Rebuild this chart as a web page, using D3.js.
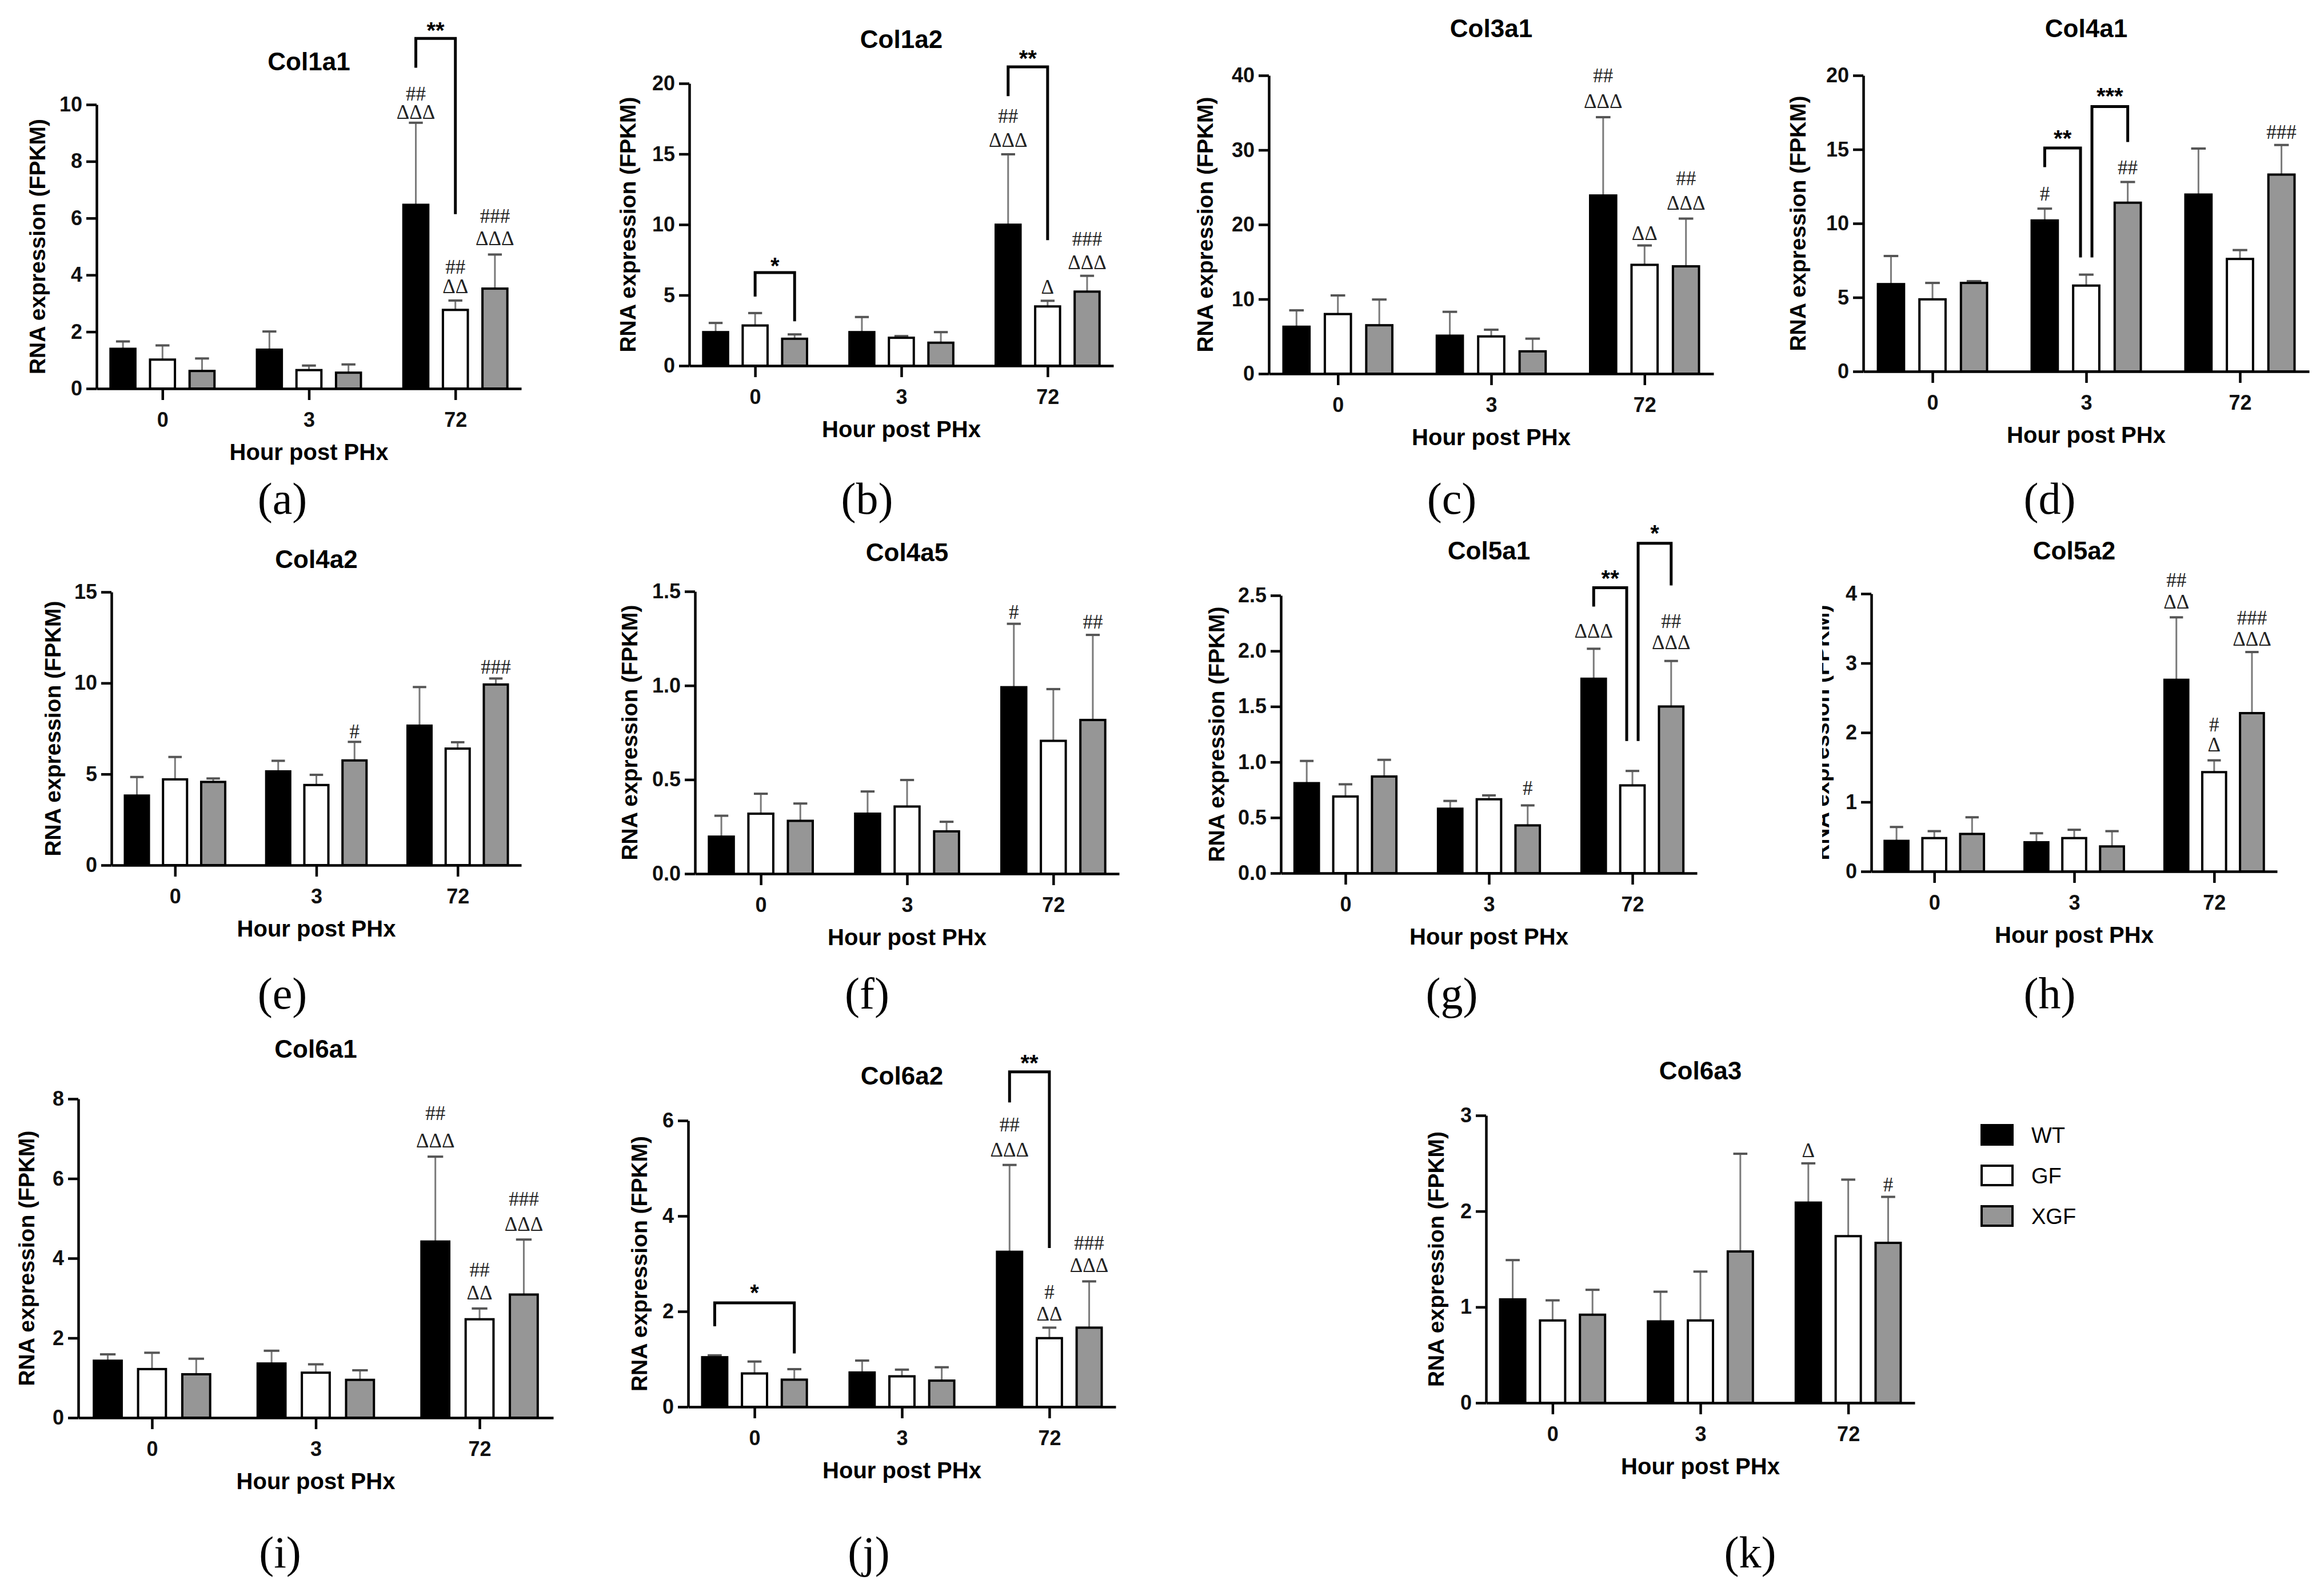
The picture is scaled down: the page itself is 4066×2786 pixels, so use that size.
<!DOCTYPE html>
<html>
<head>
<meta charset="utf-8">
<script src="https://cdn.jsdelivr.net/npm/d3@7"></script>
<style>
body { margin: 0; background: #fff; }
</style>
</head>
<body>
<script>
//collagen RNA expression panels, 11 small bar charts

//categories
var hours = ["0", "3", "72"];
var groups = ["WT", "GF", "XGF"];
var genes = ["Col1a1", "Col1a2", "Col3a1", "Col4a1", "Col4a2", "Col4a5", "Col5a1", "Col5a2", "Col6a1", "Col6a2", "Col6a3"];
var letters = ["a", "b", "c", "d", "e", "f", "g", "h", "i", "j", "k"];

//means (rows = hour, columns = WT, GF, XGF) and SD (upper error bar)
var col1a1Mean = [[1.40, 1.02, 0.62], [1.37, 0.65, 0.56], [6.47, 2.77, 3.52]];
var col1a1Sd   = [[0.26, 0.50, 0.44], [0.64, 0.16, 0.29], [2.89, 0.33, 1.20]];
var col1a2Mean = [[2.38, 2.85, 1.91], [2.38, 1.98, 1.63], [9.99, 4.20, 5.25]];
var col1a2Sd   = [[0.65, 0.88, 0.31], [1.07, 0.12, 0.75], [4.99, 0.40, 1.12]];
var col3a1Mean = [[6.3, 8.0, 6.5], [5.1, 5.0, 3.0], [23.9, 14.6, 14.4]];
var col3a1Sd   = [[2.2, 2.5, 3.45], [3.2, 0.9, 1.7], [10.5, 2.6, 6.4]];
var col4a1Mean = [[5.9, 4.87, 5.98], [10.2, 5.8, 11.4], [11.95, 7.6, 13.3]];
var col4a1Sd   = [[1.9, 1.11, 0.12], [0.8, 0.74, 1.4], [3.11, 0.6, 2.0]];
var col4a2Mean = [[3.82, 4.71, 4.57], [5.15, 4.40, 5.75], [7.66, 6.40, 9.92]];
var col4a2Sd   = [[1.02, 1.23, 0.19], [0.58, 0.56, 1.02], [2.12, 0.35, 0.33]];
var col4a5Mean = [[0.197, 0.319, 0.281], [0.319, 0.357, 0.225], [0.991, 0.706, 0.817]];
var col4a5Sd   = [[0.111, 0.106, 0.092], [0.118, 0.141, 0.051], [0.337, 0.275, 0.452]];
var col5a1Mean = [[0.81, 0.69, 0.87], [0.58, 0.665, 0.43], [1.75, 0.79, 1.50]];
var col5a1Sd   = [[0.20, 0.11, 0.15], [0.07, 0.035, 0.18], [0.27, 0.13, 0.41]];
var col5a2Mean = [[0.44, 0.48, 0.54], [0.42, 0.48, 0.36], [2.76, 1.43, 2.28]];
var col5a2Sd   = [[0.20, 0.10, 0.24], [0.13, 0.12, 0.22], [0.90, 0.17, 0.88]];
var col6a1Mean = [[1.43, 1.22, 1.09], [1.36, 1.13, 0.95], [4.42, 2.47, 3.09]];
var col6a1Sd   = [[0.16, 0.41, 0.39], [0.32, 0.21, 0.24], [2.13, 0.27, 1.38]];
var col6a2Mean = [[1.04, 0.70, 0.57], [0.72, 0.64, 0.55], [3.25, 1.44, 1.66]];
var col6a2Sd   = [[0.04, 0.25, 0.22], [0.25, 0.14, 0.28], [1.82, 0.22, 0.97]];
var col6a3Mean = [[1.08, 0.86, 0.92], [0.85, 0.86, 1.58], [2.09, 1.74, 1.67]];
var col6a3Sd   = [[0.41, 0.21, 0.26], [0.31, 0.51, 1.02], [0.41, 0.59, 0.48]];

//y tick labels
var col1a1Ticks = [0, 2, 4, 6, 8, 10];
var col1a2Ticks = [0, 5, 10, 15, 20];
var col3a1Ticks = [0, 10, 20, 30, 40];
var col4a1Ticks = [0, 5, 10, 15, 20];
var col4a2Ticks = [0, 5, 10, 15];
var col4a5Ticks = [0, 0.5, 1.0, 1.5];
var col5a1Ticks = [0, 0.5, 1.0, 1.5, 2.0, 2.5];
var col5a2Ticks = [0, 1, 2, 3, 4];
var col6a1Ticks = [0, 2, 4, 6, 8];
var col6a2Ticks = [0, 2, 4, 6];
var col6a3Ticks = [0, 1, 2, 3];

//marks over bars: [hour, group, text, value at text centre]
var col1a1Marks = [["72", "WT", "##", 10.38], ["72", "WT", "ΔΔΔ", 9.74], ["72", "GF", "##", 4.30], ["72", "GF", "ΔΔ", 3.60], ["72", "XGF", "###", 6.08], ["72", "XGF", "ΔΔΔ", 5.30]];
var col1a2Marks = [["72", "WT", "##", 17.7], ["72", "WT", "ΔΔΔ", 16.0], ["72", "GF", "Δ", 5.6], ["72", "XGF", "###", 9.0], ["72", "XGF", "ΔΔΔ", 7.35]];
var col3a1Marks = [["72", "WT", "##", 40.0], ["72", "WT", "ΔΔΔ", 36.6], ["72", "GF", "ΔΔ", 18.9], ["72", "XGF", "##", 26.2], ["72", "XGF", "ΔΔΔ", 22.9]];
var col4a1Marks = [["3", "WT", "#", 12.0], ["3", "XGF", "##", 13.8], ["72", "XGF", "###", 16.2]];
var col4a2Marks = [["3", "XGF", "#", 7.35], ["72", "XGF", "###", 10.9]];
var col4a5Marks = [["72", "WT", "#", 1.39], ["72", "XGF", "##", 1.34]];
var col5a1Marks = [["3", "XGF", "#", 0.77], ["72", "WT", "ΔΔΔ", 2.18], ["72", "XGF", "##", 2.27], ["72", "XGF", "ΔΔΔ", 2.08]];
var col5a2Marks = [["72", "WT", "##", 4.2], ["72", "WT", "ΔΔ", 3.89], ["72", "GF", "#", 2.12], ["72", "GF", "Δ", 1.83], ["72", "XGF", "###", 3.66], ["72", "XGF", "ΔΔΔ", 3.35]];
var col6a1Marks = [["72", "WT", "##", 7.64], ["72", "WT", "ΔΔΔ", 6.96], ["72", "GF", "##", 3.71], ["72", "GF", "ΔΔ", 3.15], ["72", "XGF", "###", 5.5], ["72", "XGF", "ΔΔΔ", 4.87]];
var col6a2Marks = [["72", "WT", "##", 5.92], ["72", "WT", "ΔΔΔ", 5.39], ["72", "GF", "#", 2.41], ["72", "GF", "ΔΔ", 1.95], ["72", "XGF", "###", 3.44], ["72", "XGF", "ΔΔΔ", 2.97]];
var col6a3Marks = [["72", "WT", "Δ", 2.64], ["72", "XGF", "#", 2.28]];

//brackets: [hour, from, to, left end, top, right end, stars, star value]
var col1a1Brackets = [["72", "WT", "GF", 11.3, 12.33, 6.14, "**", 12.8]];
var col1a2Brackets = [["0", "GF", "XGF", 4.9, 6.6, 3.15, "*", 7.47], ["72", "WT", "GF", 19.1, 21.17, 8.9, "**", 22.17]];
var col4a1Brackets = [["3", "WT", "GF", 13.8, 15.1, 7.7, "**", 16.1], ["3", "GF", "XGF", 7.7, 17.9, 15.5, "***", 18.95]];
var col5a1Brackets = [["72", "WT", "GF", 2.40, 2.57, 1.19, "**", 2.70], ["72", "GF", "XGF", 1.19, 2.97, 2.59, "*", 3.11]];
var col6a2Brackets = [["0", "WT", "XGF", 1.69, 2.18, 1.12, "*", 2.50], ["72", "WT", "GF", 6.38, 7.02, 3.33, "**", 7.32]];

var means = [col1a1Mean, col1a2Mean, col3a1Mean, col4a1Mean, col4a2Mean, col4a5Mean, col5a1Mean, col5a2Mean, col6a1Mean, col6a2Mean, col6a3Mean];
var sds = [col1a1Sd, col1a2Sd, col3a1Sd, col4a1Sd, col4a2Sd, col4a5Sd, col5a1Sd, col5a2Sd, col6a1Sd, col6a2Sd, col6a3Sd];
var ticks = [col1a1Ticks, col1a2Ticks, col3a1Ticks, col4a1Ticks, col4a2Ticks, col4a5Ticks, col5a1Ticks, col5a2Ticks, col6a1Ticks, col6a2Ticks, col6a3Ticks];
var marks = [col1a1Marks, col1a2Marks, col3a1Marks, col4a1Marks, col4a2Marks, col4a5Marks, col5a1Marks, col5a2Marks, col6a1Marks, col6a2Marks, col6a3Marks];
var brackets = [col1a1Brackets, col1a2Brackets, [], col4a1Brackets, [], [], col5a1Brackets, [], [], col6a2Brackets, []];

//where each panel sits on the page (pixels)
var layout = [
  {x0: 169, x1: 912, yTop: 183, yBot: 680, ty: 107, lx: 494, ly: 876, yl: 104},
  {x0: 1206, x1: 1948, yTop: 146, yBot: 640, ty: 68, lx: 1517, ly: 876, yl: 108},
  {x0: 2220, x1: 2998, yTop: 132, yBot: 654, ty: 49, lx: 2540, ly: 876, yl: 112},
  {x0: 3260, x1: 4040, yTop: 132, yBot: 650, ty: 49, lx: 3586, ly: 876, yl: 115},
  {x0: 195, x1: 912, yTop: 1036, yBot: 1514, ty: 978, lx: 494, ly: 1742, yl: 103},
  {x0: 1216, x1: 1958, yTop: 1035, yBot: 1529, ty: 966, lx: 1517, ly: 1742, yl: 115},
  {x0: 2241, x1: 2969, yTop: 1042, yBot: 1528, ty: 963, lx: 2540, ly: 1742, yl: 113},
  {x0: 3274, x1: 3984, yTop: 1039, yBot: 1525, ty: 963, lx: 3586, ly: 1742, yl: 88, clip: 86},
  {x0: 137, x1: 968, yTop: 1923, yBot: 2481, ty: 1835, lx: 490, ly: 2720, yl: 91},
  {x0: 1204, x1: 1952, yTop: 1961, yBot: 2462, ty: 1882, lx: 1520, ly: 2720, yl: 86},
  {x0: 2600, x1: 3350, yTop: 1952, yBot: 2455, ty: 1873, lx: 3062, ly: 2720, yl: 88}
];

var fills = {WT: "#000000", GF: "#ffffff", XGF: "#969696"};
var sans = "'Liberation Sans', Arial, sans-serif";
var serif = "'Liberation Serif', 'Times New Roman', serif";

window.onload = function(){

    var w = 4066, h = 2786;

    var svg = d3.select("body")
       .append("svg")
       .attr("width", w)
       .attr("height", h)
       .style("background-color", "#ffffff");

    var defs = svg.append("defs");

    for (var i = 0; i < genes.length; i++) {
        drawPanel(i);
    }

    //legend next to Col6a3
    var legend = svg.append("g").attr("class", "legend");
    var ly = d3.scalePoint().domain(groups).range([1986, 2128]);
    groups.forEach(function(gr){
        legend.append("rect")
           .attr("x", 3467).attr("y", ly(gr) - 17)
           .attr("width", 54).attr("height", 34)
           .style("fill", fills[gr]).style("stroke", "#000").style("stroke-width", 4);
        legend.append("text")
           .attr("x", 3554).attr("y", ly(gr)).attr("dy", "0.36em")
           .style("font-family", sans).style("font-size", "38px")
           .text(gr);
    });

    function drawPanel(i){
        var L = layout[i];
        var g = svg.append("g").attr("class", "panel-" + letters[i]);

        var x = d3.scalePoint().domain(hours).range([L.x0, L.x1]).padding(0.45);
        var step = x.step();
        var xs = d3.scaleBand().domain(groups)
           .range([-0.405 * step, 0.405 * step])
           .paddingInner(0.37).paddingOuter(0.185);
        var bw = xs.bandwidth();
        var tk = ticks[i];
        var y = d3.scaleLinear().domain([0, d3.max(tk)]).range([L.yBot, L.yTop]);
        var isInt = tk.every(function(t){ return t === Math.round(t); });
        var fmt = isInt ? d3.format("d") : d3.format(".1f");

        //flatten the bars
        var bars = [];
        hours.forEach(function(hr, hi){
            groups.forEach(function(gr, gi){
                bars.push({hour: hr, group: gr, mean: means[i][hi][gi], sd: sds[i][hi][gi]});
            });
        });
        function cx(hr, gr){ return x(hr) + xs(gr) + bw / 2; }

        //error bars (upper only)
        var eb = g.append("g").attr("class", "errors");
        eb.selectAll("line.stem").data(bars).enter().append("line")
           .attr("class", "stem")
           .attr("x1", function(d){ return cx(d.hour, d.group); })
           .attr("x2", function(d){ return cx(d.hour, d.group); })
           .attr("y1", function(d){ return y(d.mean); })
           .attr("y2", function(d){ return y(d.mean + d.sd); })
           .style("stroke", "#7a7a7a").style("stroke-width", 3);
        eb.selectAll("line.cap").data(bars).enter().append("line")
           .attr("class", "cap")
           .attr("x1", function(d){ return cx(d.hour, d.group) - bw * 0.28; })
           .attr("x2", function(d){ return cx(d.hour, d.group) + bw * 0.28; })
           .attr("y1", function(d){ return y(d.mean + d.sd); })
           .attr("y2", function(d){ return y(d.mean + d.sd); })
           .style("stroke", "#555").style("stroke-width", 4);

        //bars
        g.selectAll("rect.bar").data(bars).enter().append("rect")
           .attr("class", "bar")
           .attr("x", function(d){ return x(d.hour) + xs(d.group); })
           .attr("y", function(d){ return y(d.mean); })
           .attr("width", bw)
           .attr("height", function(d){ return L.yBot - y(d.mean); })
           .style("fill", function(d){ return fills[d.group]; })
           .style("stroke", "#000").style("stroke-width", 4);

        //axes
        var yAxis = d3.axisLeft(y).tickValues(tk).tickFormat(fmt)
           .tickSize(18).tickSizeOuter(0).tickPadding(7);
        var ya = g.append("g").attr("transform", "translate(" + L.x0 + ",0)").call(yAxis);
        var xAxis = d3.axisBottom(x).tickSize(20).tickSizeOuter(0).tickPadding(21);
        var xa = g.append("g").attr("transform", "translate(0," + L.yBot + ")").call(xAxis);
        [ya, xa].forEach(function(a){
            a.selectAll("path, line").style("stroke", "#000").style("stroke-width", 4.5);
            a.selectAll("text").style("font-family", sans).style("font-weight", "bold")
               .style("font-size", "36px").style("fill", "#111");
        });

        //title and axis labels
        var mid = (L.x0 + L.x1) / 2;
        g.append("text")
           .attr("x", mid).attr("y", L.ty).attr("dy", "0.36em")
           .attr("text-anchor", "middle")
           .style("font-family", sans).style("font-weight", "bold").style("font-size", "44px")
           .text(genes[i]);
        g.append("text")
           .attr("x", mid).attr("y", L.yBot + 111).attr("dy", "0.36em")
           .attr("text-anchor", "middle")
           .style("font-family", sans).style("font-weight", "bold").style("font-size", "40px")
           .text("Hour post PHx");
        var yl = g.append("text")
           .attr("transform", "translate(" + (L.x0 - L.yl) + "," + ((L.yTop + L.yBot) / 2) + ") rotate(-90)")
           .attr("dy", "0.36em")
           .attr("text-anchor", "middle")
           .style("font-family", sans).style("font-weight", "bold").style("font-size", "39px")
           .text("RNA expression (FPKM)");
        if (L.clip) {
            //the original cuts this label on its left side
            defs.append("clipPath").attr("id", "clip-" + letters[i])
               .attr("clipPathUnits", "userSpaceOnUse")
               .append("rect")
               .attr("x", L.x0 - L.clip).attr("y", L.yTop - 100)
               .attr("width", 200).attr("height", L.yBot - L.yTop + 200);
            var clipG = g.append("g").attr("clip-path", "url(#clip-" + letters[i] + ")");
            clipG.node().appendChild(yl.node());
        }

        //panel letter
        g.append("text")
           .attr("x", L.lx).attr("y", L.ly).attr("dy", "0.3em")
           .attr("text-anchor", "middle")
           .style("font-family", serif).style("font-size", "78px")
           .text("(" + letters[i] + ")");

        //# and delta marks
        g.selectAll("text.mark").data(marks[i]).enter().append("text")
           .attr("class", "mark")
           .attr("x", function(d){ return cx(d[0], d[1]); })
           .attr("y", function(d){ return y(d[3]); })
           .attr("dy", "0.35em")
           .attr("text-anchor", "middle")
           .style("font-family", serif).style("font-size", "35px").style("fill", "#222")
           .text(function(d){ return d[2]; });

        //significance brackets
        var br = brackets[i];
        br.forEach(function(b, bi){
            var xl = cx(b[0], b[1]), xr = cx(b[0], b[2]);
            //nudge legs that share a bar with another bracket
            br.forEach(function(o, oi){
                if (oi === bi || o[0] !== b[0]) return;
                if (o[1] === b[2]) xr -= 10;
                if (o[2] === b[1]) xl += 10;
            });
            var path = d3.path();
            path.moveTo(xl, y(b[3]));
            path.lineTo(xl, y(b[4]));
            path.lineTo(xr, y(b[4]));
            path.lineTo(xr, y(b[5]));
            g.append("path").attr("d", path.toString())
               .style("fill", "none").style("stroke", "#000").style("stroke-width", 5);
            g.append("text")
               .attr("x", (xl + xr) / 2).attr("y", y(b[7])).attr("dy", "0.58em")
               .attr("text-anchor", "middle")
               .style("font-family", sans).style("font-weight", "bold").style("font-size", "40px")
               .text(b[6]);
        });
    }
};
</script>
</body>
</html>
